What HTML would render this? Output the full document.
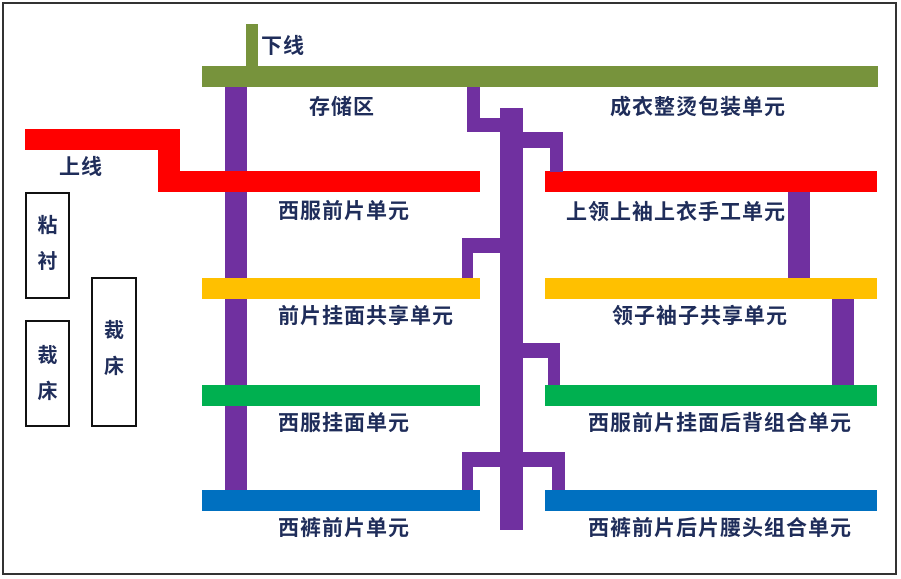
<!DOCTYPE html>
<html><head><meta charset="utf-8"><style>
body{margin:0;width:901px;height:579px;background:#fff;position:relative;overflow:hidden;font-family:"Liberation Sans","Noto Sans CJK SC",sans-serif}
div{position:absolute}
.t{color:#1f2d5a;font-weight:bold;font-size:21px;letter-spacing:1px;white-space:nowrap;line-height:24px}
.p{background:#7030a0}
.b{border:2px solid #111;box-sizing:border-box}
.v{color:#1f2d5a;font-weight:bold;font-size:20px;line-height:36px;text-align:center;width:100%}
</style></head><body>
<div style="left:2px;top:2px;width:895px;height:573px;border:2px solid #333;box-sizing:border-box"></div>
<div style="left:246px;top:24px;width:12px;height:44px;background:#77933c"></div>
<div style="left:202px;top:66px;width:676px;height:21px;background:#77933c"></div>
<div class="p" style="left:225px;top:87px;width:22px;height:413px"></div>
<div style="left:25px;top:129px;width:155px;height:21px;background:#f00"></div>
<div style="left:158px;top:129px;width:22px;height:63px;background:#f00"></div>
<div style="left:158px;top:171px;width:322px;height:21px;background:#f00"></div>
<div style="left:545px;top:171px;width:332px;height:21px;background:#f00"></div>
<div style="left:202px;top:278px;width:278px;height:21px;background:#ffc000"></div>
<div style="left:545px;top:278px;width:332px;height:21px;background:#ffc000"></div>
<div style="left:202px;top:385px;width:278px;height:21px;background:#00b050"></div>
<div style="left:545px;top:385px;width:332px;height:21px;background:#00b050"></div>
<div style="left:202px;top:490px;width:278px;height:21px;background:#0070c0"></div>
<div style="left:545px;top:490px;width:332px;height:21px;background:#0070c0"></div>
<div class="p" style="left:500px;top:108px;width:23px;height:422px"></div>
<div class="p" style="left:467px;top:87px;width:13px;height:45px"></div>
<div class="p" style="left:467px;top:118px;width:34px;height:14px"></div>
<div class="p" style="left:522px;top:132px;width:41px;height:16px"></div>
<div class="p" style="left:550px;top:132px;width:13px;height:40px"></div>
<div class="p" style="left:462px;top:238px;width:39px;height:15px"></div>
<div class="p" style="left:462px;top:238px;width:11px;height:40px"></div>
<div class="p" style="left:522px;top:343px;width:38px;height:15px"></div>
<div class="p" style="left:548px;top:343px;width:12px;height:42px"></div>
<div class="p" style="left:462px;top:452px;width:103px;height:15px"></div>
<div class="p" style="left:462px;top:452px;width:11px;height:38px"></div>
<div class="p" style="left:552px;top:452px;width:13px;height:38px"></div>
<div class="p" style="left:788px;top:192px;width:22px;height:86px"></div>
<div class="p" style="left:832px;top:299px;width:22px;height:86px"></div>
<div class="b" style="left:25px;top:192px;width:45px;height:107px;padding-top:14px"><div class="v" style="position:static">粘<br>衬</div></div>
<div class="b" style="left:25px;top:320px;width:45px;height:107px;padding-top:16px"><div class="v" style="position:static">裁<br>床</div></div>
<div class="b" style="left:91px;top:277px;width:46px;height:150px;padding-top:34px"><div class="v" style="position:static">裁<br>床</div></div>
<div class="t" style="left:261px;top:35px">下线</div>
<div class="t" style="left:59px;top:156px">上线</div>
<div class="t" style="left:309px;top:96px">存储区</div>
<div class="t" style="left:610px;top:96px">成衣整烫包装单元</div>
<div class="t" style="left:278px;top:200px">西服前片单元</div>
<div class="t" style="left:566px;top:201px">上领上袖上衣手工单元</div>
<div class="t" style="left:278px;top:305px">前片挂面共享单元</div>
<div class="t" style="left:612px;top:305px">领子袖子共享单元</div>
<div class="t" style="left:278px;top:412px">西服挂面单元</div>
<div class="t" style="left:588px;top:412px">西服前片挂面后背组合单元</div>
<div class="t" style="left:278px;top:517px">西裤前片单元</div>
<div class="t" style="left:588px;top:517px">西裤前片后片腰头组合单元</div>
</body></html>
